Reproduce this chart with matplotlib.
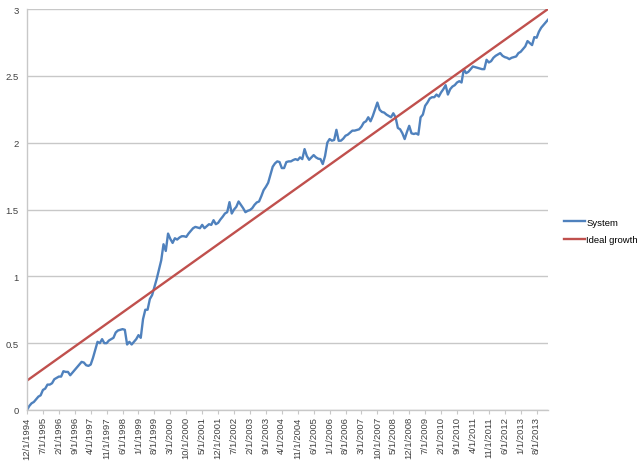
import matplotlib
matplotlib.use("Agg")
import matplotlib.pyplot as plt
import pandas as pd

start_date = "1994-12-01"
system = [
    0.00, 0.03, 0.05, 0.06, 0.08, 0.10, 0.11, 0.15, 0.16, 0.19,
    0.19, 0.20, 0.23, 0.24, 0.25, 0.25, 0.29, 0.285, 0.285, 0.26,
    0.28, 0.30, 0.32, 0.34, 0.36, 0.355, 0.335, 0.33, 0.34, 0.39,
    0.45, 0.51, 0.50, 0.53, 0.50, 0.50, 0.52, 0.53, 0.54, 0.58,
    0.595, 0.60, 0.605, 0.60, 0.49, 0.51, 0.49, 0.51, 0.53, 0.56,
    0.54, 0.68, 0.75, 0.75, 0.83, 0.86, 0.92, 0.98, 1.05, 1.12,
    1.24, 1.19, 1.32, 1.28, 1.25, 1.285, 1.275, 1.29, 1.30, 1.30,
    1.295, 1.32, 1.34, 1.36, 1.37, 1.365, 1.36, 1.385, 1.36, 1.375,
    1.39, 1.385, 1.42, 1.39, 1.40, 1.425, 1.446, 1.47, 1.48, 1.555,
    1.47, 1.50, 1.52, 1.56, 1.535, 1.51, 1.48, 1.49, 1.496, 1.51,
    1.535, 1.553, 1.56, 1.60, 1.645, 1.67, 1.70, 1.76, 1.82, 1.845,
    1.86, 1.855, 1.81, 1.81, 1.855, 1.86, 1.86, 1.87, 1.877, 1.87,
    1.89, 1.877, 1.952, 1.90, 1.872, 1.89, 1.907, 1.89, 1.88, 1.877,
    1.84, 1.90, 2.00, 2.027, 2.015, 2.02, 2.096, 2.014, 2.015, 2.03,
    2.052, 2.06, 2.075, 2.09, 2.09, 2.095, 2.10, 2.12, 2.15, 2.16,
    2.19, 2.16, 2.20, 2.25, 2.30, 2.246, 2.23, 2.225, 2.21, 2.20,
    2.19, 2.22, 2.19, 2.11, 2.10, 2.07, 2.027, 2.08, 2.126, 2.07,
    2.065, 2.07, 2.06, 2.19, 2.21, 2.276, 2.30, 2.33, 2.34, 2.34,
    2.36, 2.345, 2.376, 2.40, 2.43, 2.36, 2.40, 2.42, 2.43, 2.45,
    2.46, 2.45, 2.55, 2.52, 2.53, 2.55, 2.57, 2.565, 2.56, 2.555,
    2.55, 2.55, 2.62, 2.60, 2.61, 2.635, 2.65, 2.66, 2.67, 2.65,
    2.64, 2.635, 2.625, 2.635, 2.64, 2.645, 2.67, 2.68, 2.70, 2.72,
    2.76, 2.745, 2.73, 2.79, 2.785, 2.83, 2.86, 2.88, 2.90, 2.92,
]
ideal_start = 0.22
ideal_end = 3.00
y_ticks = [0, 0.5, 1, 1.5, 2, 2.5, 3]
y_tick_labels = ["0", "0.5", "1", "1.5", "2", "2.5", "3"]
label_step = 7

dates = pd.date_range(start_date, periods=len(system), freq="MS")
labels = [f"{d.month}/{d.day}/{d.year}" for d in dates]
x = list(range(len(system)))

plt.rcParams["font.family"] = ["Liberation Sans", "DejaVu Sans"]

fig = plt.figure(figsize=(6.4, 4.64), dpi=100)
ax = fig.add_axes([27 / 640, 1 - 411 / 464, 521 / 640, 401 / 464])

grid_c = "#c8c8c8"
l1, = ax.plot(x, system, color="#4F81BD", lw=1.7, label="System", solid_joinstyle="round")
l2, = ax.plot([x[0], x[-1]], [ideal_start, ideal_end], color="#C0504D", lw=1.7, label="Ideal growth")

ax.set_xlim(x[0], x[-1])
ax.set_ylim(0, 3)
ax.set_yticks(y_ticks)
ax.set_yticklabels(y_tick_labels)
ax.yaxis.grid(True, color=grid_c, lw=1)
ax.set_axisbelow(True)
for s in ["top", "right"]:
    ax.spines[s].set_visible(False)
for s in ["left", "bottom"]:
    ax.spines[s].set_color(grid_c)
    ax.spines[s].set_linewidth(1)

tick_idx = x[::label_step]
ax.set_xticks(tick_idx)
ax.set_xticklabels([labels[i] for i in tick_idx], rotation=90, fontsize=6.8, color="#404040")
ax.tick_params(axis="x", length=3, color=grid_c, pad=1.5)
ax.tick_params(axis="y", length=0, labelsize=6.8, labelcolor="#404040", pad=6)

fig.legend(handles=[l1, l2], loc="upper left", bbox_to_anchor=(560 / 640, 1 - 215 / 464),
           frameon=False, fontsize=6.8, handlelength=2.2, handletextpad=0.2,
           labelspacing=0.9, borderaxespad=0)

fig.savefig("out.png", dpi=100)
